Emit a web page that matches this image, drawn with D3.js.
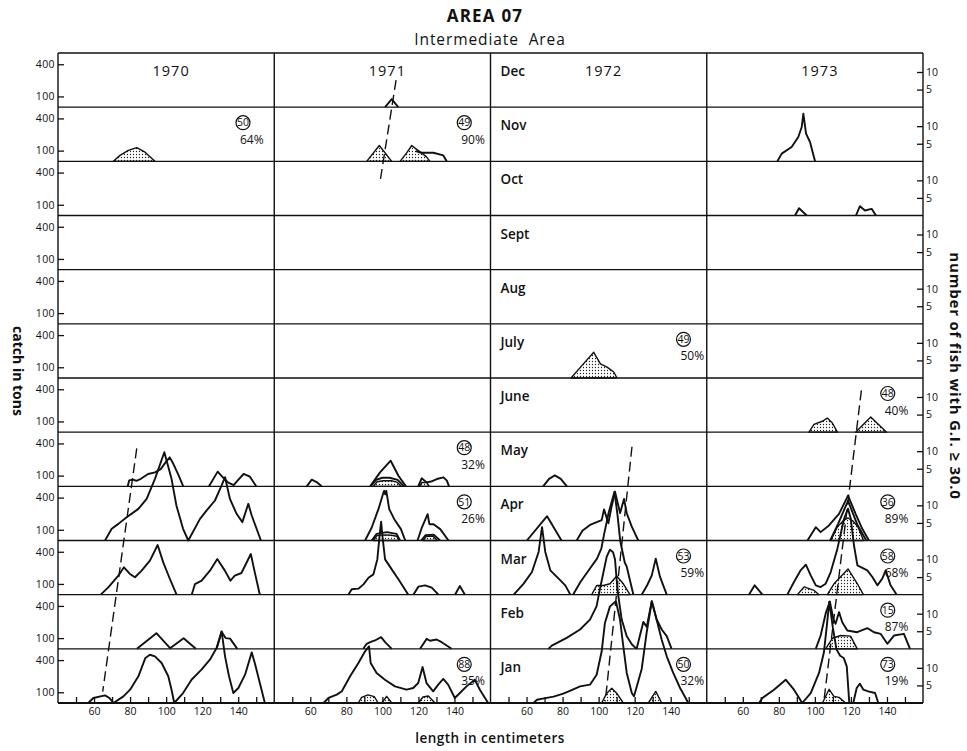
<!DOCTYPE html>
<html>
<head>
<meta charset="utf-8">
<script src="https://cdn.jsdelivr.net/npm/d3@7"></script>
<style>
  body { margin: 0; background: #fff; }
  text { font-family: "Open Sans", "Lato", sans-serif; fill: #111; }
</style>
</head>
<body>
<svg id="chart" width="967" height="751"></svg>
<script>
// ---- categories and ticks ----
const years = ["1970", "1971", "1972", "1973"];
const months = ["Dec", "Nov", "Oct", "Sept", "Aug", "July", "June", "May", "Apr", "Mar", "Feb", "Jan"];
const lengthTicks = [50, 60, 70, 80, 90, 100, 110, 120, 130, 140, 150];
const lengthLabels = [60, 80, 100, 120, 140];
const catchTicks = [100, 400];
const fishTicks = [5, 10];

// ---- catch in tons by length: [length cm, tons], one entry per drawn stretch ----
const catch1970 = [
  { month: "May", pts: [[78.7,0],[79.5,55],[81.5,62],[83.5,52],[86,70],[90,115],[93.8,130],[97,160],[100,230],[102,270],[104,210],[107,100],[109.5,0]] },
  { month: "May", pts: [[123.8,0],[128.6,137],[132,75],[134.5,35],[137.5,12],[140,60],[143,115],[146.5,90],[150,0]] },
  { month: "Apr", pts: [[66.1,0],[69.8,109],[73.5,155],[78.1,217],[84.6,295],[89.2,388],[93.8,575],[99,823],[103,575],[105.7,326],[109.4,109],[112.3,0],[118.8,202],[122.5,280],[127.1,373],[130.8,513],[132.7,590],[135.4,388],[139.1,249],[142.3,171],[145.6,342],[147.5,233],[152.6,0]] },
  { month: "Mar", pts: [[63.7,0],[67.9,68],[73.5,177],[76.6,255],[79.9,193],[82.7,162],[86.4,224],[91,317],[95.3,463],[98.4,301],[102.1,146],[105.8,0]] },
  { month: "Mar", pts: [[114.2,0],[116,99],[119.7,130],[124.3,224],[128.4,333],[132.6,224],[135.7,130],[138.1,177],[141.8,202],[147,379],[149.2,208],[152,0]] },
  { month: "Feb", pts: [[83.8,0],[94.6,146],[102.2,6],[109.7,99],[116.5,0]] },
  { month: "Feb", pts: [[128,0],[130.8,160],[133,100],[135.5,95],[139.5,0]] },
  { month: "Jan", pts: [[56.8,0],[59.6,47],[66.1,71],[68.5,47],[70.8,0],[76.3,62],[80,124],[84.6,249],[88.5,420],[91,450],[93.8,435],[97.5,373],[101.2,249],[103,124],[104.5,0],[109.4,93],[114.1,217],[119.6,311],[124.3,404],[128,513],[130.8,668],[132.7,435],[134.9,249],[137.3,93],[140.1,140],[143.8,264],[147.5,472],[149.2,373],[152,186],[154.8,0]] }
];
const catch1971 = [
  { month: "Dec", pts: [[101.5,0],[105.2,75],[108.8,0]] },
  { month: "Nov", pts: [[118.5,95],[121.5,80],[128.3,80],[133.8,55],[135.7,0]] },
  { month: "May", pts: [[58,0],[60.8,62],[63.5,40],[66.3,0]] },
  { month: "May", pts: [[93.2,0],[98.7,130],[104.6,239],[108.9,99],[113.1,0]] },
  { month: "May", pts: [[93.5,0],[96.5,60],[100,80],[104,80],[108.5,60],[112,0]] },
  { month: "May", pts: [[119.9,0],[121.8,75],[124.6,37],[127,45],[130.2,68],[133.9,84],[135.8,53],[137,0]] },
  { month: "Apr", pts: [[90.4,0],[94.1,121],[97.8,292],[100.6,447],[101,463],[101.6,430],[102.2,463],[103.8,292],[106.6,199],[110.3,106],[112.7,0]] },
  { month: "Apr", pts: [[94.1,0],[96.8,62],[102.4,78],[107.9,62],[109.8,0]] },
  { month: "Apr", pts: [[119.5,0],[121.9,121],[125.1,245],[126.1,152],[128.4,152],[132.1,106],[136.7,0]] },
  { month: "Apr", pts: [[121.5,0],[124,50],[128.5,55],[132,0]] },
  { month: "Mar", pts: [[81.1,0],[83,50],[86.7,56],[89.5,96],[92.3,158],[95,189],[97.2,329],[98.5,560],[99.3,680],[100.2,520],[101.5,329],[105.2,236],[108.9,143],[114.4,0]] },
  { month: "Mar", pts: [[117.2,0],[120,75],[123.7,87],[127.4,65],[131.1,0]] },
  { month: "Mar", pts: [[140.3,0],[143,81],[145.8,0]] },
  { month: "Feb", pts: [[89.4,0],[91.3,47],[93.2,62],[95.9,78],[99.3,109],[101.5,62],[105.2,0]] },
  { month: "Feb", pts: [[120.9,0],[124.6,93],[126.4,75],[130.1,87],[132.9,62],[138.4,0]] },
  { month: "Jan", pts: [[67.3,0],[70.1,47],[74.7,78],[77.5,109],[82.1,249],[86.7,373],[90.4,482],[92.6,528],[93.5,373],[96.8,280],[101.4,217],[107,155],[113.4,124],[117.1,140],[119.9,186],[122.3,336],[124.5,186],[128.2,109],[131,171],[133.8,224],[136.5,171],[140.2,47],[143,93],[146.7,155],[151.3,217],[154.1,124],[158.7,0]] }
];
const catch1972 = [
  { month: "May", pts: [[69.2,0],[72.5,70],[75.7,102],[79,70],[82.4,0]] },
  { month: "Apr", pts: [[60.2,0],[71.4,227],[79.4,0]] },
  { month: "Apr", pts: [[87.8,0],[91,90],[95.2,145],[101.7,190],[103,290],[105.4,160],[107,300],[109.1,455],[111.9,256],[114.1,387],[115.6,254],[118.4,129],[122,0]] },
  { month: "Mar", pts: [[52.9,0],[58.4,103],[63,211],[66.7,398],[68.6,630],[70.4,398],[73.2,227],[77.8,149],[81.5,87],[84.3,0]] },
  { month: "Mar", pts: [[85.8,0],[89.9,118],[94.5,227],[99.1,336],[101.5,430],[103,560],[105.5,760],[108.8,960],[110.5,740],[112,500],[114.5,300],[115.6,261],[119.3,0]] },
  { month: "Mar", pts: [[123.9,0],[127,90],[129.5,180],[131.7,336],[134,170],[136,80],[137.8,0]] },
  { month: "Feb", pts: [[72.1,0],[74,30],[82.3,102],[89.7,180],[95.2,273],[98.9,398],[100.5,540],[102.5,700],[104.5,860],[106.3,925],[108,900],[109.1,832],[110,646],[110.9,497],[112.8,273],[115.6,118],[118.5,40],[121.1,0]] },
  { month: "Feb", pts: [[121.1,0],[124.8,251],[126.7,205],[129.5,444],[132.2,273],[135,180],[137.8,118],[140.5,0]] },
  { month: "Jan", pts: [[63.8,0],[65.8,30],[70.4,45],[75,60],[80.4,87],[85,120],[89.7,155],[95.2,171],[98.9,264],[101.7,482],[103.5,746],[106.3,901],[109.6,948],[111.9,776],[113.7,528],[115.6,280],[118.4,93],[119.6,62],[121.1,150],[123.9,317],[126.7,662],[129.5,948],[132.2,776],[135,590],[137.8,435],[141.4,280],[145.2,140],[149.8,0]] }
];
const catch1973 = [
  { month: "Nov", pts: [[79.2,0],[81.6,72],[87.1,134],[90.8,227],[92.7,320],[93.6,444],[95.1,258],[97.3,180],[100.1,0]] },
  { month: "Oct", pts: [[89,0],[91.2,68],[95.5,0]] },
  { month: "Oct", pts: [[122.8,0],[125,87],[127.8,47],[131.5,62],[133.9,0]] },
  { month: "Apr", pts: [[95.9,0],[100.5,124],[103.2,78],[107.8,140],[113.4,248],[118.4,419],[122.6,248],[126.3,109],[130,0]] },
  { month: "Apr", pts: [[108.5,0],[113,160],[118.4,370],[123.5,150],[128.5,0]] },
  { month: "Mar", pts: [[63.4,0],[66.6,87],[70.9,0]] },
  { month: "Mar", pts: [[84.7,0],[88.4,118],[92.1,227],[95,280],[97.7,180],[100.5,87],[103.2,71],[106,102],[108.8,211],[112.5,429],[116.2,708],[118.4,802],[119.9,708],[121.7,460],[123.6,273],[129.1,227],[131.9,165],[134.7,87],[137.4,149],[139.3,227],[142,87],[145.4,0]] },
  { month: "Feb", pts: [[100.5,0],[103.2,124],[106,330],[108.3,441],[110.2,280],[111.5,233],[113.4,342],[115.2,248],[118,171],[123.5,155],[129.1,193],[132.8,155],[136.5,140],[140.2,47],[143.9,124],[149.4,140],[152.8,0]] },
  { month: "Jan", pts: [[69,0],[70.9,47],[77.3,124],[83.8,217],[88.4,124],[93,0],[97.7,93],[102.3,280],[105,470],[106.5,700],[108,945],[110,700],[112,500],[114,440],[116,420],[117.7,342],[119.1,0]] },
  { month: "Jan", pts: [[121.3,0],[123.2,140],[125,180],[126.9,124],[129.6,109],[133.4,93],[135.2,0]] }
];
const catchByYear = [catch1970, catch1971, catch1972, catch1973];

// ---- number of fish with G.I. >= 30.0: [length cm, fish] ----
const fish1970 = [
  { month: "Nov", pts: [[70.7,0],[74.4,1.7],[79,3.1],[83.7,3.9],[88.3,2.6],[93.8,0]] }
];
const fish1971 = [
  { month: "Nov", pts: [[91.3,0],[98.3,4.5],[105.2,0]] },
  { month: "Nov", pts: [[109.8,0],[113.5,2.4],[116.3,4.5],[119,3.4],[121.8,2.4],[124.6,1.2],[126.4,0]] },
  { month: "May", pts: [[95,0],[97,1.3],[100.5,1.6],[105,1.6],[108,1.2],[110.5,0]] },
  { month: "May", pts: [[120.5,0],[122,1.1],[124.5,1.1],[126,0]] },
  { month: "Apr", pts: [[95,0],[97,1.4],[101,1.6],[105,1.5],[108,1.2],[109.5,0]] },
  { month: "Apr", pts: [[122.5,0],[124.5,1.2],[128,1.3],[130.5,0]] },
  { month: "Jan", pts: [[86.6,0],[88.5,1.6],[92,2.3],[95.5,1.8],[97.7,0]] },
  { month: "Jan", pts: [[99.6,0],[102.4,1.9],[105.2,0]] },
  { month: "Jan", pts: [[120,0],[122.5,1.7],[125.5,2],[129.2,0]] }
];
const fish1972 = [
  { month: "July", pts: [[84.7,0],[90.8,3.6],[97.3,7.3],[101,4],[104.7,3.1],[108.4,1.7],[110.2,0]] },
  { month: "Mar", pts: [[96.2,0],[98.9,2.6],[102.6,2.6],[106.3,3.1],[110,5.3],[113.7,3.1],[117.4,0]] },
  { month: "Jan", pts: [[101.7,0],[104.5,2.8],[107.3,4.2],[110,2.8],[113.7,0]] },
  { month: "Jan", pts: [[127.6,0],[131.7,3.3],[135,0]] }
];
const fish1973 = [
  { month: "June", pts: [[96.7,0],[99.5,2.2],[104.1,3.1],[106.9,4],[109.7,2.6],[112.5,0]] },
  { month: "June", pts: [[122.6,0],[131,4.3],[139.8,0]] },
  { month: "Apr", pts: [[108.8,0],[112.4,3.8],[116,5.8],[118.4,6.4],[121,5.6],[124,3.8],[127,0]] },
  { month: "Mar", pts: [[90.3,0],[94,2.2],[99.6,1.2],[102.3,0]] },
  { month: "Mar", pts: [[106.9,0],[110.6,3.1],[118.4,7.3],[123.6,3.1],[126.9,0]] },
  { month: "Feb", pts: [[106,0],[109.7,3],[114.3,3.8],[119.8,3.6],[123.5,0]] },
  { month: "Jan", pts: [[104.2,0],[107.9,3.9],[110.6,1.9],[113.4,1.6],[117.1,0]] }
];
const fishByYear = [fish1970, fish1971, fish1972, fish1973];

// ---- fish sampled (circled) and share with G.I. >= 30.0 ----
const sampleYear  = ["1970","1971","1971","1971","1971","1972","1972","1972","1973","1973","1973","1973","1973"];
const sampleMonth = ["Nov", "Nov", "May", "Apr", "Jan", "July","Mar", "Jan", "June","Apr", "Mar", "Feb", "Jan"];
const sampleN     = [50, 49, 48, 51, 88, 49, 53, 50, 48, 36, 58, 15, 73];
const samplePct   = [64, 90, 32, 26, 35, 50, 59, 32, 40, 89, 68, 87, 19];

// ---- dashed progression lines: [length cm, months from top of grid] ----
const guide1970 = [[83.7, 7.3], [64.8, 11.79]];
const guide1971 = [[107.6, 0.5], [98.7, 2.38]];
const guide1972 = [[118.5, 7.27], [103.7, 11.97]];
const guide1973 = [[125.8, 6.23], [105.1, 11.94]];
const guidesByYear = [guide1970, guide1971, guide1972, guide1973];

// ---- layout ----
const frame = { left: 58, top: 53, right: 923, bottom: 703 };
const colW = (frame.right - frame.left) / years.length;
const rowH = (frame.bottom - frame.top) / months.length;
const badgeOffset = [185, 190, 193, 181];

const svg = d3.select("#chart");

const defs = svg.append("defs");
const pat = defs.append("pattern").attr("id", "stipple")
  .attr("width", 3).attr("height", 3).attr("patternUnits", "userSpaceOnUse");
pat.append("rect").attr("width", 3).attr("height", 3).attr("fill", "#fff");
pat.append("circle").attr("cx", 1.5).attr("cy", 1.5).attr("r", 0.65).attr("fill", "#222");

const xFor = i => d3.scaleLinear([40, 160], [frame.left + i * colW, frame.left + (i + 1) * colW]);
const rowTop = d3.scaleBand(months, [frame.top, frame.bottom]);
const catchY = d3.scaleLinear([0, 505], [rowH, 0]);
const fishY = d3.scaleLinear([0, 15.4], [rowH, 0]);
const gridY = d3.scaleLinear([0, 12], [frame.top, frame.bottom]);

// titles
svg.append("text").attr("x", 485).attr("y", 22).attr("text-anchor", "middle")
  .style("font-size", "17px").style("font-weight", 700).style("letter-spacing", "1.2px").text("AREA 07");
svg.append("text").attr("x", 490).attr("y", 45).attr("text-anchor", "middle")
  .style("font-size", "15.5px").style("font-weight", 500).style("letter-spacing", "0.9px")
  .style("white-space", "pre").text("Intermediate  Area");

const plot = svg.append("g");

// stippled counts
years.forEach((yr, i) => {
  const x = xFor(i);
  fishByYear[i].forEach(s => {
    const top = rowTop(s.month);
    const area = d3.area()
      .x(d => x(d[0]))
      .y0(top + fishY(0))
      .y1(d => top + fishY(d[1]));
    plot.append("path").attr("d", area(s.pts))
      .attr("fill", "url(#stipple)").attr("stroke", "#111")
      .attr("stroke-width", 1.4).attr("stroke-linejoin", "round");
  });
});

// catch curves
years.forEach((yr, i) => {
  const x = xFor(i);
  catchByYear[i].forEach(s => {
    const top = rowTop(s.month);
    const line = d3.line()
      .x(d => x(d[0]))
      .y(d => top + catchY(d[1]));
    plot.append("path").attr("d", line(s.pts))
      .attr("fill", "none").attr("stroke", "#111")
      .attr("stroke-width", 1.9).attr("stroke-linejoin", "round");
  });
});

// dashed progression lines
years.forEach((yr, i) => {
  const x = xFor(i);
  const line = d3.line().x(d => x(d[0])).y(d => gridY(d[1]));
  plot.append("path").attr("d", line(guidesByYear[i]))
    .attr("fill", "none").attr("stroke", "#111").attr("stroke-width", 1.4)
    .attr("stroke-dasharray", "10,5");
});

// panel grid
const grid = svg.append("g").attr("stroke", "#111").attr("stroke-width", 1.4);
months.forEach(m => {
  grid.append("line").attr("x1", frame.left).attr("x2", frame.right)
    .attr("y1", rowTop(m)).attr("y2", rowTop(m));
});
grid.append("line").attr("x1", frame.left).attr("x2", frame.right)
  .attr("y1", frame.bottom).attr("y2", frame.bottom).attr("stroke-width", 1.8);
d3.range(years.length + 1).forEach(i => {
  grid.append("line").attr("x1", frame.left + i * colW).attr("x2", frame.left + i * colW)
    .attr("y1", frame.top).attr("y2", frame.bottom);
});

// year headings
years.forEach((yr, i) => {
  svg.append("text").attr("x", frame.left + i * colW + colW / 2 + 5).attr("y", frame.top + 23)
    .attr("text-anchor", "middle").style("font-size", "14.5px").style("font-weight", 500)
    .style("letter-spacing", "1px").text(yr);
});

// month names in the 1972 column
months.forEach(m => {
  svg.append("text").attr("x", frame.left + 2 * colW + 10).attr("y", rowTop(m) + 23)
    .style("font-size", "13.5px").style("font-weight", 600).text(m);
});

// sample badges
sampleN.forEach((n, k) => {
  const i = years.indexOf(sampleYear[k]);
  const cx = frame.left + i * colW + badgeOffset[i];
  const cy = rowTop(sampleMonth[k]) + 15.5;
  svg.append("circle").attr("cx", cx).attr("cy", cy).attr("r", 7)
    .attr("fill", "none").attr("stroke", "#111").attr("stroke-width", 1.2);
  svg.append("text").attr("x", cx).attr("y", cy + 3.8).attr("text-anchor", "middle")
    .style("font-size", "10.5px").style("font-weight", 500).text(n);
  svg.append("text").attr("x", cx - 3).attr("y", cy + 21)
    .style("font-size", "12px").style("font-weight", 500).text(samplePct[k] + "%");
});

// left axis: catch in tons
months.forEach(m => {
  const y = d3.scaleLinear(catchY.domain(), [rowTop(m) + rowH, rowTop(m)]);
  const g = svg.append("g").attr("transform", `translate(${frame.left},0)`)
    .call(d3.axisLeft(y).tickValues(catchTicks).tickSizeInner(-6).tickSizeOuter(0).tickPadding(3));
  g.select(".domain").remove();
  g.selectAll("line").attr("stroke", "#111").attr("stroke-width", 1.3);
  g.selectAll("text").style("font-size", "10.5px").style("font-family", "'Open Sans', sans-serif")
    .style("letter-spacing", "0.4px").attr("fill", "#111");
});

// right axis: number of fish
months.forEach(m => {
  const y = d3.scaleLinear(fishY.domain(), [rowTop(m) + rowH, rowTop(m)]);
  const g = svg.append("g").attr("transform", `translate(${frame.right},0)`)
    .call(d3.axisRight(y).tickValues(fishTicks).tickSizeInner(-6).tickSizeOuter(0).tickPadding(3));
  g.select(".domain").remove();
  g.selectAll("line").attr("stroke", "#111").attr("stroke-width", 1.3);
  g.selectAll("text").style("font-size", "10.5px").style("font-family", "'Open Sans', sans-serif")
    .attr("fill", "#111");
});

// bottom axes: length in centimeters
years.forEach((yr, i) => {
  const g = svg.append("g").attr("transform", `translate(0,${frame.bottom})`)
    .call(d3.axisBottom(xFor(i)).tickValues(lengthTicks).tickSizeInner(-6).tickSizeOuter(0)
      .tickPadding(5).tickFormat(d => lengthLabels.includes(d) ? d : ""));
  g.select(".domain").remove();
  g.selectAll("line").attr("stroke", "#111").attr("stroke-width", 1.3);
  g.selectAll("text").style("font-size", "10.5px").style("font-family", "'Open Sans', sans-serif")
    .attr("fill", "#111");
});

// axis titles
svg.append("text").attr("x", 490).attr("y", 743).attr("text-anchor", "middle")
  .style("font-size", "13.5px").style("font-weight", 600).style("letter-spacing", "0.5px")
  .text("length in centimeters");
svg.append("text").attr("transform", "translate(13,371) rotate(90)").attr("text-anchor", "middle")
  .style("font-size", "14px").style("font-weight", 700).text("catch in tons");
svg.append("text").attr("transform", "translate(950,376) rotate(90)").attr("text-anchor", "middle")
  .style("font-size", "15px").style("font-weight", 700).style("letter-spacing", "0.8px")
  .text("number of fish with G.I. \u2265 30.0");
</script>
</body>
</html>
